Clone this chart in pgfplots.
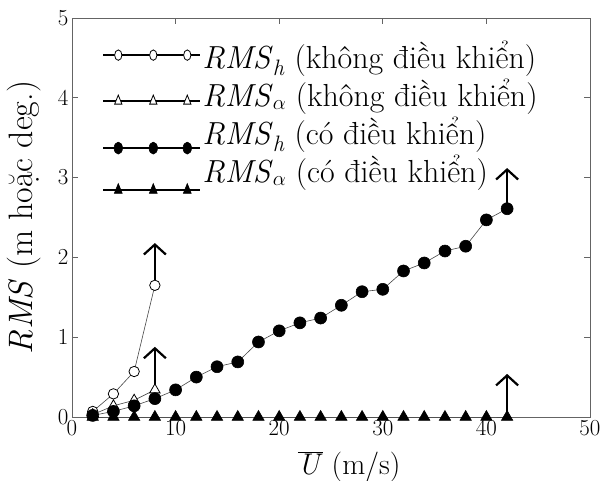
\documentclass[border=0pt]{standalone}
\usepackage{fontspec}
\usepackage{pgfplots}
\pgfplotsset{compat=1.18}
\usetikzlibrary{arrows.meta}
\definecolor{axgray}{RGB}{100,100,100}
\definecolor{lngray}{RGB}{70,70,70}
\pgfplotsset{myleg/.style={legend image code/.code={\path[draw=none] (0bp,0bp) -- (97bp,0bp);
    \begin{scope}[overlay, yshift=#1]
    \draw[black, line width=1.3bp] (0bp,0bp) -- (97bp,0bp);
    \draw[##1, only marks, every mark/.append style={xscale=0.7}] plot coordinates {(15bp,0bp) (50bp,0bp) (84bp,0bp)};
    \end{scope}}}}
\begin{document}
\begin{tikzpicture}
\begin{axis}[
  name=ax,
  width=518bp, height=399bp, scale only axis,
  xmin=0, xmax=50, ymin=0, ymax=5,
  xtick={0,10,...,50}, ytick={0,1,...,5},
  tick align=inside, major tick length=6bp,
  axis line style={draw=axgray, line width=0.8bp},
  every tick/.style={axgray, line width=0.8bp},
  /pgf/number format/assume math mode=true,
  tick label style={font=\fontsize{23}{26}\selectfont},
  xlabel={$\overline{\mbox{\textit{U}}}$ (m/s)},
  ylabel={\textit{RMS} (m hoặc deg.)},
  xlabel style={font=\fontsize{30}{36}\selectfont, at={(axis description cs:0.535,0)}, anchor=base, yshift=-57bp},
  ylabel style={font=\fontsize{34}{40}\selectfont, at={(axis description cs:-0.077,0.5)}, anchor=base},
  legend style={draw=none, fill=none, at={(0.06,0.94)}, anchor=north west,
    font=\fontsize{32}{38}\selectfont, row sep=2bp, inner sep=0pt,
    nodes={text height=24bp, text depth=8bp}},
  legend cell align=left,
]
\draw[-{Straight Barb[length=10bp, width=22bp]}, line width=2.2bp] (axis cs:8,1.65) -- (axis cs:8,2.18);
\draw[-{Straight Barb[length=10bp, width=22bp]}, line width=2.2bp] (axis cs:8,0.33) -- (axis cs:8,0.88);
\draw[-{Straight Barb[length=10bp, width=22bp]}, line width=2.2bp] (axis cs:42,2.6) -- (axis cs:42,3.12);
\draw[-{Straight Barb[length=10bp, width=22bp]}, line width=2.2bp] (axis cs:42,0) -- (axis cs:42,0.54);

\addplot[lngray, line width=0.6bp, mark=*, mark size=5.2bp,
  mark options={draw=black, fill=white, line width=0.8bp}, myleg=5bp]
  coordinates {(2,0.07)(4,0.29)(6,0.57)(8,1.65)};
\addlegendentry{\textit{RMS}\textsubscript{\textit{h}} (không điều khiển)}

\addplot[lngray, line width=0.6bp, mark=triangle*, mark size=6bp,
  mark options={draw=black, fill=white, line width=0.8bp}, myleg=-3bp]
  coordinates {(2,0.03)(4,0.14)(6,0.21)(8,0.34)};
\addlegendentry{\textit{RMS}\textsubscript{$\alpha$} (không điều khiển)}

\addplot[lngray, line width=0.6bp, mark=*, mark size=6bp,
  mark options={draw=black, fill=black, line width=0.6bp}, myleg=-12bp]
  coordinates {(2,0.02)(4,0.07)(6,0.14)(8,0.23)(10,0.34)(12,0.50)(14,0.63)(16,0.69)(18,0.94)(20,1.08)(22,1.18)(24,1.24)(26,1.40)(28,1.57)(30,1.60)(32,1.83)(34,1.93)(36,2.08)(38,2.14)(40,2.47)(42,2.61)};
\addlegendentry{\textit{RMS}\textsubscript{\textit{h}} (có điều khiển)}

\addplot[lngray, line width=0.6bp, mark=triangle*, mark size=6.5bp,
  mark options={draw=black, fill=black, line width=0.6bp}, myleg=-16bp]
  coordinates {(2,0)(4,0)(6,0)(8,0)(10,0)(12,0)(14,0)(16,0)(18,0)(20,0)(22,0)(24,0)(26,0)(28,0)(30,0)(32,0)(34,0)(36,0)(38,0)(40,0)(42,0)};
\addlegendentry{\textit{RMS}\textsubscript{$\alpha$} (có điều khiển)}
\end{axis}
\pgfresetboundingbox
\path (ax.south west) ++(-72bp,-64bp) rectangle ++(610bp,481bp);
\end{tikzpicture}
\end{document}
